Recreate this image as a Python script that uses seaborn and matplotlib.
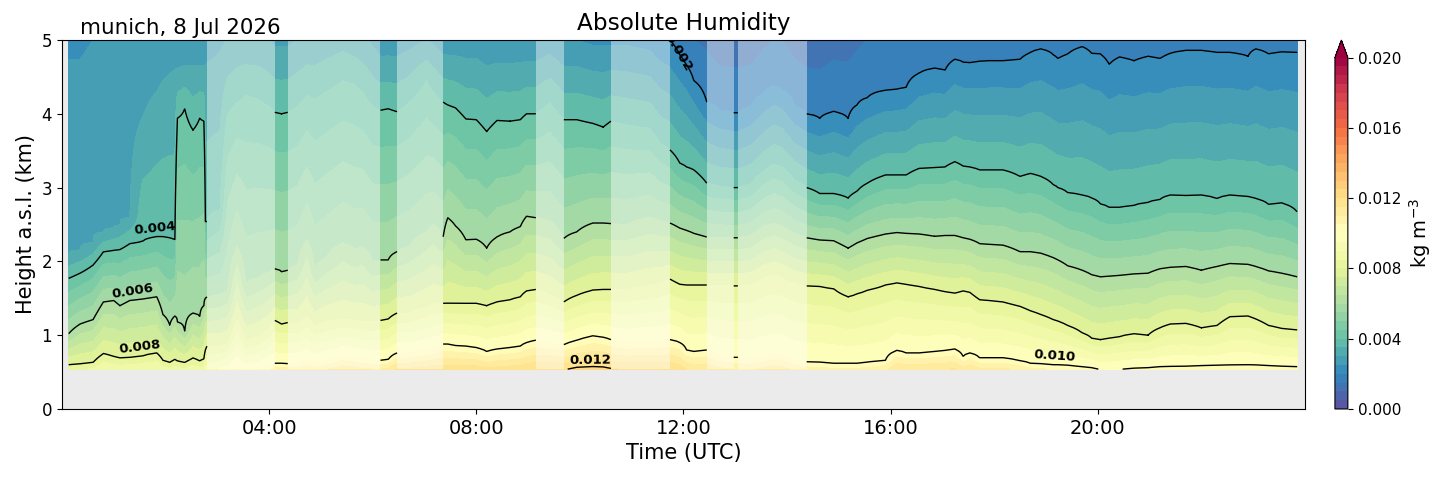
import numpy as np
import matplotlib
matplotlib.use("Agg")
import matplotlib.pyplot as plt
import seaborn as sns

nan = np.nan

# ---------------- data ----------------
# time of each profile (hours UTC)
time_h = [0.13, 0.35, 0.60, 0.80, 1.00, 1.12, 1.31, 1.56, 1.83, 1.95, 2.08, 2.18, 2.23, 2.37, 2.53, 2.66, 2.74, 2.77, 2.80,
          3.05, 3.20, 3.38, 3.55, 3.80, 4.00,
          4.11, 4.24, 4.36,
          4.55, 4.73, 4.88, 5.10, 5.43, 5.65, 5.80, 6.00,
          6.15, 6.30, 6.47,
          6.70, 7.04, 7.17,
          7.36, 7.45, 7.60, 7.80, 8.00, 8.20, 8.40, 8.65, 8.85, 8.97, 9.15,
          9.42,
          9.69, 9.94, 10.25, 10.45, 10.60,
          10.90, 11.35, 11.55,
          11.74, 11.93, 12.06, 12.20, 12.45,
          12.70,
          12.97, 13.05,
          13.30, 13.55, 13.75, 13.90, 14.15,
          14.38, 14.63, 14.90, 15.18, 15.35, 15.55, 15.90, 16.12, 16.30, 16.55, 16.85, 17.05, 17.24, 17.40,
          17.53, 17.72, 17.90, 18.17, 18.50, 18.70, 18.90, 19.14, 19.23, 19.42, 19.70, 19.88, 20.05, 20.22,
          20.42, 20.70, 20.97, 21.20, 21.40, 21.70, 22.00, 22.30, 22.55, 22.90, 23.05, 23.30, 23.55, 23.85]

# height (km a.s.l.) of the 0.012 kg m-3 isoline (values below ground = extrapolated gradient)
h_012 = [0.10, 0.10, 0.10, 0.10, 0.10, 0.10, 0.10, 0.10, 0.10, 0.10, 0.10, 0.10, 0.10, 0.10, 0.10, 0.10, 0.10, 0.10, 0.12,
         0.25, 0.28, 0.32, 0.30, 0.32, 0.35,
         0.40, 0.40, 0.40,
         0.40, 0.42, 0.40, 0.42, 0.45, 0.44, 0.43, 0.42,
         0.42, 0.43, 0.48,
         0.48, 0.50, 0.51,
         0.50, 0.50, 0.50, 0.50, 0.50, 0.48, 0.49, 0.50, 0.50, 0.52, 0.53,
         0.54,
         0.53, 0.565, 0.575, 0.57, 0.55,
         0.53, 0.54, 0.53,
         0.53, 0.50, 0.45, 0.42, 0.42,
         0.40,
         0.38, 0.38,
         0.38, 0.40, 0.42, 0.42, 0.38,
         0.36, 0.35, 0.35, 0.35, 0.35, 0.35, 0.38, 0.45, 0.44, 0.44, 0.45, 0.45, 0.46, 0.42,
         0.44, 0.42, 0.42, 0.42, 0.38, 0.36, 0.35, 0.34, 0.34, 0.33, 0.32, 0.31, 0.30, 0.30,
         0.30, 0.31, 0.31, 0.32, 0.32, 0.33, 0.33, 0.33, 0.34, 0.34, 0.34, 0.33, 0.33, 0.33]

h_010 = [0.30, 0.30, 0.30, 0.30, 0.30, 0.30, 0.30, 0.30, 0.30, 0.30, 0.30, 0.30, 0.30, 0.30, 0.30, 0.30, 0.30, 0.30, 0.32,
         0.45, 0.48, 0.55, 0.50, 0.52, 0.58,
         0.62, 0.62, 0.61,
         0.62, 0.66, 0.62, 0.65, 0.72, 0.70, 0.68, 0.66,
         0.66, 0.67, 0.76,
         0.76, 0.80, 0.82,
         0.88, 0.88, 0.86, 0.85, 0.83, 0.78, 0.81, 0.83, 0.85, 0.90, 0.93,
         0.90,
         0.87, 0.93, 0.99, 0.97, 0.94,
         0.90, 0.92, 0.92,
         0.94, 0.90, 0.80, 0.78, 0.80,
         0.72,
         0.70, 0.70,
         0.68, 0.72, 0.75, 0.74, 0.66,
         0.64, 0.63, 0.62, 0.62, 0.62, 0.63, 0.66, 0.79, 0.76, 0.76, 0.78, 0.79, 0.81, 0.71,
         0.76, 0.69, 0.69, 0.69, 0.65, 0.62, 0.61, 0.60, 0.60, 0.59, 0.57, 0.56, 0.53, 0.525,
         0.535, 0.55, 0.56, 0.57, 0.575, 0.58, 0.585, 0.59, 0.595, 0.60, 0.595, 0.585, 0.58, 0.57]

h_008 = [0.60, 0.61, 0.63, 0.75, 0.71, 0.69, 0.70, 0.72, 0.76, 0.66, 0.63, 0.67, 0.65, 0.63, 0.69, 0.65, 0.68, 0.80, 0.85,
         0.85, 0.88, 1.20, 0.92, 0.98, 1.08,
         1.20, 1.15, 1.17,
         1.15, 1.25, 1.12, 1.18, 1.22, 1.20, 1.18, 1.18,
         1.20, 1.22, 1.30,
         1.30, 1.38, 1.42,
         1.43, 1.43, 1.43, 1.43, 1.43, 1.40, 1.45, 1.48, 1.52, 1.60, 1.62,
         1.55,
         1.45, 1.54, 1.61, 1.62, 1.62,
         1.62, 1.68, 1.70,
         1.76, 1.69, 1.68, 1.68, 1.68,
         1.67,
         1.67, 1.67,
         1.68, 1.78, 1.82, 1.78, 1.70,
         1.67, 1.66, 1.63, 1.52, 1.56, 1.61, 1.68, 1.71, 1.69, 1.66, 1.62, 1.59, 1.57, 1.60,
         1.58, 1.48, 1.47, 1.45, 1.39, 1.33, 1.28, 1.21, 1.19, 1.13, 1.03, 0.96, 0.94, 0.96,
         0.98, 1.02, 1.00, 1.10, 1.15, 1.16, 1.10, 1.13, 1.25, 1.26, 1.22, 1.13, 1.09, 1.07]

h_006 = [1.02, 1.15, 1.21, 1.45, 1.47, 1.40, 1.47, 1.49, 1.52, 1.28, 1.14, 1.26, 1.18, 1.05, 1.30, 1.25, 1.40, 1.50, 1.52,
         1.55, 1.60, 2.20, 1.70, 1.78, 1.85,
         1.90, 1.86, 1.88,
         1.95, 2.30, 1.90, 2.05, 2.25, 2.15, 2.20, 2.00,
         2.02, 2.02, 2.13,
         2.20, 2.40, 2.50,
         2.33, 2.59, 2.48, 2.29, 2.30, 2.18, 2.33, 2.40, 2.47, 2.61, 2.59,
         2.55,
         2.31, 2.40, 2.52, 2.52, 2.51,
         2.50, 2.60, 2.55,
         2.52, 2.45, 2.42, 2.38, 2.33,
         2.32,
         2.32, 2.32,
         2.35, 2.48, 2.52, 2.48, 2.38,
         2.32, 2.29, 2.28, 2.18, 2.25, 2.31, 2.37, 2.39, 2.38, 2.37, 2.34, 2.35, 2.35, 2.32,
         2.30, 2.24, 2.23, 2.22, 2.13, 2.13, 2.11, 2.05, 2.02, 1.94, 1.88, 1.82, 1.79, 1.80,
         1.81, 1.83, 1.84, 1.90, 1.92, 1.93, 1.88, 1.93, 1.97, 1.96, 1.93, 1.87, 1.84, 1.79]

h_004 = [1.77, 1.84, 1.95, 2.13, 2.15, 2.16, 2.24, 2.27, 2.33, 2.33, 2.32, 2.29, 3.94, 4.07, 3.78, 3.94, 3.90, 2.54, 2.54,
         2.70, 4.00, 4.15, 4.25, 4.20, 4.10,
         4.02, 4.00, 4.02,
         4.10, 4.25, 4.20, 4.30, 4.45, 4.40, 4.30, 4.10,
         4.05, 4.07, 4.03,
         4.15, 4.45, 4.30,
         4.16, 4.12, 4.08, 3.93, 3.92, 3.76, 3.91, 3.90, 3.92, 4.00, 4.00,
         4.15,
         3.92, 3.92, 3.87, 3.82, 3.90,
         3.85, 3.80, 3.60,
         3.51, 3.33, 3.28, 3.24, 3.06,
         3.02,
         3.00, 3.00,
         3.05, 3.22, 3.32, 3.28, 3.10,
         3.00, 2.92, 2.92, 2.86, 2.95, 3.06, 3.17, 3.17, 3.17, 3.26, 3.27, 3.28, 3.35, 3.29,
         3.28, 3.24, 3.24, 3.24, 3.15, 3.19, 3.15, 3.04, 3.00, 2.93, 2.90, 2.86, 2.78, 2.73,
         2.73, 2.76, 2.80, 2.84, 2.90, 2.89, 2.90, 2.85, 2.90, 2.88, 2.85, 2.77, 2.79, 2.67]

h_003 = [2.10, 2.15, 2.25, 2.40, 2.45, 2.50, 2.60, 3.95, 4.30, 4.45, 4.55, 4.60, 4.62, 4.65, 4.65, 4.66, 4.66, 4.66, 4.70,
         4.85, nan, nan, nan, nan, nan,
         nan, nan, nan,
         nan, nan, nan, nan, nan, nan, nan, nan,
         nan, nan, nan,
         nan, nan, nan,
         nan, nan, nan, nan, nan, nan, nan, nan, nan, nan, nan,
         nan,
         nan, nan, nan, nan, nan,
         nan, nan, nan,
         nan, nan, nan, nan, nan,
         nan,
         nan, nan,
         nan, nan, nan, nan, nan,
         nan, nan, nan, nan, nan, nan, nan, nan, nan, nan, nan, nan, nan, nan,
         nan, nan, nan, nan, nan, nan, nan, nan, nan, nan, nan, nan, nan, nan,
         nan, nan, nan, nan, nan, nan, nan, nan, nan, nan, nan, nan, nan, nan]

h_002 = [nan, nan, nan, nan, nan, nan, nan, nan, nan, nan, nan, nan, nan, nan, nan, nan, nan, nan, nan,
         nan, nan, nan, nan, nan, nan,
         nan, nan, nan,
         nan, nan, nan, nan, nan, nan, nan, nan,
         nan, nan, nan,
         nan, nan, nan,
         nan, nan, nan, nan, nan, nan, nan, nan, nan, nan, nan,
         nan,
         nan, nan, nan, nan, nan,
         nan, nan, nan,
         nan, 4.80, 4.66, 4.45, 4.16,
         4.05,
         4.01, 4.01,
         4.10, 4.28, 4.38, 4.33, 4.10,
         4.00, 3.94, 4.03, 3.94, 4.12, 4.22, 4.32, 4.33, 4.36, 4.55, 4.62, 4.59, 4.74, 4.70,
         4.69, 4.71, 4.72, 4.72, 4.74, 4.83, 4.88, 4.80, 4.75, 4.81, 4.91, 4.82, 4.81, 4.67,
         4.77, 4.72, 4.78, 4.75, 4.82, 4.86, 4.86, 4.83, 4.83, 4.78, 4.88, 4.81, 4.84, 4.83]

# humidity at the top of the profile (5 km), kg m-3
v_top = [0.00245, 0.00245, 0.0025, 0.0026, 0.0026, 0.0026, 0.0027, 0.0027, 0.0027, 0.0027, 0.0027, 0.0027, 0.0027, 0.0027,
         0.0027, 0.0027, 0.0027, 0.0027, 0.0027,
         0.0029, 0.0030, 0.0031, 0.0031, 0.0031, 0.0030,
         0.0029, 0.0029, 0.0029,
         0.0030, 0.0031, 0.0031, 0.0032, 0.0033, 0.0032, 0.0031, 0.0029,
         0.0027, 0.0027, 0.0027,
         0.0028, 0.0030, 0.0029,
         0.0027, 0.0027, 0.0027, 0.0027, 0.0027, 0.0026, 0.0026, 0.0026, 0.0026, 0.0026, 0.0026,
         0.0027,
         0.0025, 0.0025, 0.0024, 0.0024, 0.0024,
         0.0024, 0.0023, 0.0021,
         0.0020, 0.0018, 0.0016, 0.0015, 0.0014,
         0.0012,
         0.0012, 0.0012,
         0.0012, 0.0014, 0.0015, 0.0015, 0.0013,
         0.0012, 0.0012, 0.0013, 0.0013, 0.0014, 0.0015, 0.0016, 0.0016, 0.0016, 0.0017, 0.0017, 0.0017, 0.0018, 0.0018,
         0.0018, 0.0018, 0.0018, 0.0018, 0.0018, 0.0019, 0.0019, 0.0019, 0.0018, 0.0019, 0.0019, 0.0019, 0.0019, 0.0018,
         0.0018, 0.0018, 0.0018, 0.0018, 0.0019, 0.0019, 0.0019, 0.0019, 0.0019, 0.0019, 0.0019, 0.0019, 0.0019, 0.0019]

# flagged (low quality) periods, hours UTC
flag_start = [2.80, 4.36, 6.47, 9.15, 10.60, 12.45, 13.05]
flag_end = [4.11, 6.15, 7.36, 9.69, 11.74, 12.97, 14.38]

ground_km = 0.54
top_km = 5.0
fill_levels = np.linspace(0.0, 0.020, 41)
line_levels = [0.002, 0.004, 0.006, 0.008, 0.010, 0.012]
cbar_ticks = [0.000, 0.004, 0.008, 0.012, 0.016, 0.020]
xtick_hours = [4, 8, 12, 16, 20]
xtick_labels = ["04:00", "08:00", "12:00", "16:00", "20:00"]
ytick_km = [0, 1, 2, 3, 4, 5]
title = "Absolute Humidity"
site_text = "munich, 8 Jul 2026"

# ---------------- build the height-time field from the isolines ----------------
t = np.asarray(time_h)
z = np.arange(ground_km, top_km + 1e-9, 0.02)
iso_values = [0.012, 0.010, 0.008, 0.006, 0.004, 0.003, 0.002]
iso_heights = [h_012, h_010, h_008, h_006, h_004, h_003, h_002]

field = np.empty((len(z), len(t)))
for j in range(len(t)):
    zs, vs = [], []
    for val, arr in zip(iso_values, iso_heights):
        h = arr[j]
        if np.isfinite(h) and h < top_km:
            zs.append(h)
            vs.append(val)
    zs.append(top_km)
    vs.append(v_top[j])
    zs = np.asarray(zs)
    vs = np.asarray(vs)
    col = np.interp(z, zs, vs)
    below = z < zs[0]
    if below.any():
        slope = (vs[1] - vs[0]) / (zs[1] - zs[0])
        col[below] = vs[0] + slope * (z[below] - zs[0])
    field[:, j] = col

flagged = np.zeros(len(t), dtype=bool)
for s, e in zip(flag_start, flag_end):
    flagged |= (t > s + 1e-6) & (t < e - 1e-6)
field_lines = np.ma.masked_array(field, mask=np.repeat(flagged[None, :], len(z), axis=0))

# ---------------- plot ----------------
plt.rcParams["font.family"] = ["DejaVu Sans"]
cmap = sns.color_palette("Spectral_r", as_cmap=True)

fig = plt.figure(figsize=(14.54, 4.78), dpi=100)
ax = fig.add_axes([0.0426, 0.1444, 0.8549, 0.7719])
cax = fig.add_axes([0.9181, 0.1444, 0.0089, 0.7719])
ax.set_facecolor("#ebebeb")

cf = ax.contourf(t, z, field, levels=fill_levels, cmap=cmap, extend="max", zorder=1)
for s, e in zip(flag_start, flag_end):
    ax.axvspan(s, e, ymin=ground_km / top_km, ymax=1.0, color="white", alpha=0.42, lw=0, zorder=2)
cs = ax.contour(t, z, field_lines, levels=line_levels, colors="k", linewidths=1.0, zorder=3)

label_pos = [(1.80, 2.35), (1.35, 1.50), (1.50, 0.74), (11.93, 4.85), (10.2, 0.57), (19.17, 0.61)]
label_lift = [0.12, 0.12, 0.12, 0.0, 0.08, 0.12]
labels = ax.clabel(cs, fmt="%.3f", fontsize=9.5, inline=False, manual=label_pos)
for txt in labels:
    txt.set_fontweight("bold")
    txt.set_clip_path(ax.patch)
    txt.set_clip_on(True)
    txt.set_zorder(4)
    x0, y0 = txt.get_position()
    k = int(np.argmin([(x0 - p[0]) ** 2 + ((y0 - p[1]) * 5) ** 2 for p in label_pos]))
    txt.set_position((x0, y0 + label_lift[k]))

ax.set_xlim(0, 24)
ax.set_ylim(0, 5)
ax.set_xticks(xtick_hours)
ax.set_xticklabels(xtick_labels)
ax.set_yticks(ytick_km)
ax.tick_params(axis="x", labelsize=14)
ax.tick_params(axis="y", labelsize=12)
ax.set_xlabel("Time (UTC)", fontsize=15)
ax.set_ylabel("Height a.s.l. (km)", fontsize=15)
ax.set_title(title, fontsize=16.7, pad=7.5)
ax.text(0.0145, 1.0155, site_text, transform=ax.transAxes, ha="left", va="baseline", fontsize=15.4)

cb = fig.colorbar(cf, cax=cax, ticks=cbar_ticks, format="%.3f", extend="max")
cb.ax.tick_params(labelsize=11)
cb.set_label("kg m$^{-3}$", fontsize=14)

fig.savefig("out.png", dpi=100)
